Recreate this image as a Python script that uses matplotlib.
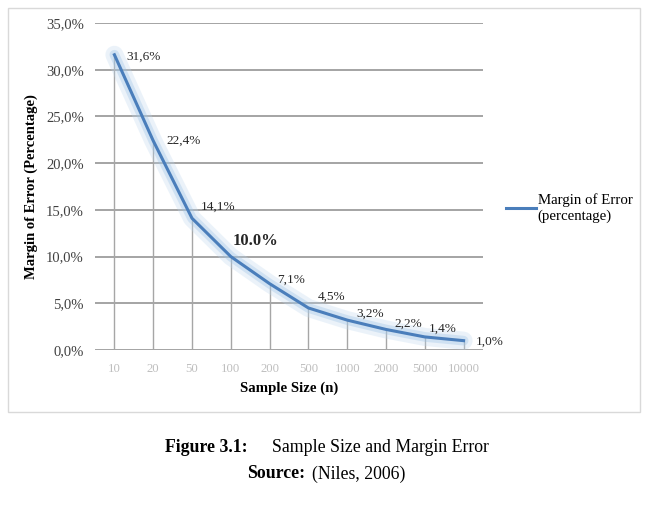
import matplotlib
matplotlib.use("Agg")
import numpy as np
import matplotlib.pyplot as plt
from matplotlib.patches import Rectangle
from matplotlib.ticker import FuncFormatter

plt.rcParams['font.family'] = ['Liberation Serif', 'DejaVu Serif']

# data
sample_sizes = ['10', '20', '50', '100', '200', '500', '1000', '2000', '5000', '10000']
margin_error = [31.6, 22.4, 14.1, 10.0, 7.1, 4.5, 3.2, 2.2, 1.4, 1.0]
value_labels = ['31,6%', '22,4%', '14,1%', '10.0%', '7,1%', '4,5%', '3,2%', '2,2%', '1,4%', '1,0%']
y_ticks = [0, 5, 10, 15, 20, 25, 30, 35]

# label placement (pixel offsets from each point)
label_offsets = [(12, -2), (13, 0), (9, 12), (2, 16), (8, 4), (9, 11), (9, 6), (8, 6), (4, 8), (12, -1)]

fig = plt.figure(figsize=(6.48, 5.09), dpi=100)
fig.patches.append(Rectangle((8 / 648, 1 - 412 / 509), 632 / 648, 404 / 509,
                             transform=fig.transFigure, fill=False,
                             edgecolor='#D9D9D9', linewidth=1.0))

ax = fig.add_axes([95 / 648, 1 - 350 / 509, 388 / 648, 327 / 509])
x = np.arange(len(sample_sizes))

# grid
for t in y_ticks:
    ax.axhline(t, color='#8C8C8C', linewidth=1.1, zorder=1)

# drop lines
ax.vlines(x, 0, margin_error, color='#A6A6A6', linewidth=1.0, zorder=1)

# glow + line
ax.plot(x, margin_error, color='#BDD7EE', linewidth=13, alpha=0.3,
        solid_capstyle='round', solid_joinstyle='round', zorder=2)
ax.plot(x, margin_error, color='#9DC3E6', linewidth=7, alpha=0.35,
        solid_capstyle='round', solid_joinstyle='round', zorder=2)
line, = ax.plot(x, margin_error, color='#4A7EBB', linewidth=2.2,
                solid_joinstyle='round', zorder=3, label='Margin of Error\n(percentage)')

for i, (v, lab) in enumerate(zip(margin_error, value_labels)):
    bold = lab == '10.0%'
    ax.annotate(lab, (x[i], v), xytext=label_offsets[i], textcoords='offset pixels',
                ha='left', va='center', fontsize=12 if bold else 9.5,
                fontweight='bold' if bold else 'normal', color='#262626', zorder=4)

ax.set_xlim(-0.5, len(sample_sizes) - 0.5)
ax.set_ylim(0, 35)
ax.set_yticks(y_ticks)
ax.yaxis.set_major_formatter(FuncFormatter(lambda v, p: f'{v:.1f}%'.replace('.', ',')))
ax.set_xticks(x)
ax.set_xticklabels(sample_sizes)
ax.tick_params(axis='both', length=0)
ax.tick_params(axis='y', labelsize=10.5, labelcolor='#404040', pad=8)
ax.tick_params(axis='x', labelsize=9.2, labelcolor='#BFBFBF', pad=9)
for s in ax.spines.values():
    s.set_visible(False)

ax.set_xlabel('Sample Size (n)', fontsize=10.7, fontweight='bold', labelpad=5)
ax.set_ylabel('Margin of Error (Percentage)', fontsize=10.5, fontweight='bold', labelpad=6)

fig.legend(handles=[line], loc='center left', bbox_to_anchor=(493 / 648, 1 - 208 / 509),
           frameon=False, handlelength=2.0, handletextpad=0.1,
           prop={'size': 10.7})

# caption below chart
fig.text(165 / 648, 1 - 447 / 509, 'Figure 3.1:', fontsize=12.8, fontweight='bold',
         ha='left', va='center')
fig.text(272 / 648, 1 - 447 / 509, 'Sample Size and Margin Error', fontsize=12.8,
         ha='left', va='center')
fig.text(247 / 648, 1 - 474 / 509, 'Source:', fontsize=12.8, fontweight='bold',
         ha='left', va='center')
fig.text(312 / 648, 1 - 474 / 509, '(Niles, 2006)', fontsize=12.8,
         ha='left', va='center')

fig.savefig('out.png', dpi=100)
